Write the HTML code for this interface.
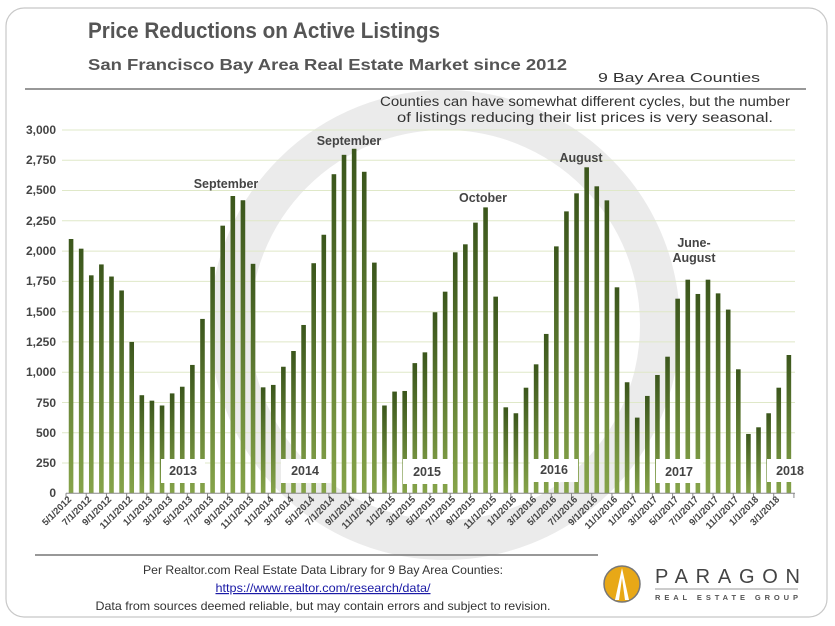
<!DOCTYPE html>
<html><head><meta charset="utf-8"><style>
html,body{margin:0;padding:0;background:#fff;}
svg{display:block;font-family:"Liberation Sans",Arial,sans-serif;}
</style></head><body>
<svg id="s" width="835" height="626" viewBox="0 0 835 626" xmlns="http://www.w3.org/2000/svg">
<defs>
<linearGradient id="g" x1="0" y1="0" x2="0" y2="1"><stop offset="0" stop-color="#3b561c"/><stop offset="1" stop-color="#86a44a"/></linearGradient>
</defs>
<rect x="6" y="8" width="821" height="609" rx="18" fill="#fff" stroke="#c8c8c8" stroke-width="1.2"/>
<circle cx="445" cy="325" r="215" fill="none" stroke="#ebebeb" stroke-width="40"/>
<text x="88" y="38" font-size="22" font-weight="bold" fill="#555" textLength="352" lengthAdjust="spacingAndGlyphs">Price Reductions on Active Listings</text>
<text x="88" y="70" font-size="16" font-weight="bold" fill="#555" textLength="479" lengthAdjust="spacingAndGlyphs">San Francisco Bay Area Real Estate Market since 2012</text>
<text x="598" y="82" font-size="13" fill="#333" textLength="162" lengthAdjust="spacingAndGlyphs">9 Bay Area Counties</text>
<line x1="25" y1="89" x2="806" y2="89" stroke="#777" stroke-width="1.5"/>
<text x="380" y="106" font-size="13.5" fill="#333" textLength="410" lengthAdjust="spacingAndGlyphs">Counties can have somewhat different cycles, but the number</text>
<text x="397" y="122" font-size="13.5" fill="#333" textLength="376" lengthAdjust="spacingAndGlyphs">of listings reducing their list prices is very seasonal.</text>
<g stroke="#dfe8c8" stroke-width="1">
<line x1="62" y1="130" x2="795" y2="130"/><line x1="62" y1="160.3" x2="795" y2="160.3"/><line x1="62" y1="190.5" x2="795" y2="190.5"/><line x1="62" y1="220.8" x2="795" y2="220.8"/><line x1="62" y1="251.1" x2="795" y2="251.1"/><line x1="62" y1="281.4" x2="795" y2="281.4"/><line x1="62" y1="311.7" x2="795" y2="311.7"/><line x1="62" y1="341.9" x2="795" y2="341.9"/><line x1="62" y1="372.2" x2="795" y2="372.2"/><line x1="62" y1="402.5" x2="795" y2="402.5"/><line x1="62" y1="432.8" x2="795" y2="432.8"/><line x1="62" y1="463" x2="795" y2="463"/>
</g>
<g font-size="12" font-weight="bold" fill="#444" text-anchor="end">
<text x="56" y="134">3,000</text><text x="56" y="164">2,750</text><text x="56" y="194">2,500</text><text x="56" y="225">2,250</text><text x="56" y="255">2,000</text><text x="56" y="285">1,750</text><text x="56" y="316">1,500</text><text x="56" y="346">1,250</text><text x="56" y="376">1,000</text><text x="56" y="407">750</text><text x="56" y="437">500</text><text x="56" y="467">250</text><text x="56" y="497">0</text>
</g>
<g id="bars" fill="url(#g)"></g>
<g fill="#fff">
<rect x="161" y="459" width="44" height="24"/><rect x="281" y="459" width="49" height="24"/><rect x="403" y="459" width="49" height="25"/><rect x="530" y="459" width="48" height="23"/><rect x="656" y="459" width="47" height="24"/><rect x="767" y="459" width="36" height="23"/>
</g>
<g font-size="12.5" font-weight="bold" fill="#444" text-anchor="middle">
<text x="183" y="475">2013</text><text x="305" y="475">2014</text><text x="427" y="476">2015</text><text x="554" y="474">2016</text><text x="679" y="476">2017</text><text x="790" y="475">2018</text>
<text x="226" y="188">September</text><text x="349" y="145">September</text><text x="483" y="202">October</text><text x="581" y="162">August</text><text x="694" y="247">June-</text><text x="694" y="262">August</text>
</g>
<line x1="66" y1="493.3" x2="795" y2="493.3" stroke="#888"/>
<g id="ticks" stroke="#888"></g>
<g font-size="9.5" font-weight="bold" fill="#444" text-anchor="end">
<text transform="translate(72,500) rotate(-45)">5/1/2012</text>
<text transform="translate(92,500) rotate(-45)">7/1/2012</text>
<text transform="translate(112,500) rotate(-45)">9/1/2012</text>
<text transform="translate(133,500) rotate(-45)">11/1/2012</text>
<text transform="translate(153,500) rotate(-45)">1/1/2013</text>
<text transform="translate(173,500) rotate(-45)">3/1/2013</text>
<text transform="translate(193,500) rotate(-45)">5/1/2013</text>
<text transform="translate(214,500) rotate(-45)">7/1/2013</text>
<text transform="translate(234,500) rotate(-45)">9/1/2013</text>
<text transform="translate(254,500) rotate(-45)">11/1/2013</text>
<text transform="translate(274,500) rotate(-45)">1/1/2014</text>
<text transform="translate(294,500) rotate(-45)">3/1/2014</text>
<text transform="translate(315,500) rotate(-45)">5/1/2014</text>
<text transform="translate(335,500) rotate(-45)">7/1/2014</text>
<text transform="translate(355,500) rotate(-45)">9/1/2014</text>
<text transform="translate(375,500) rotate(-45)">11/1/2014</text>
<text transform="translate(396,500) rotate(-45)">1/1/2015</text>
<text transform="translate(416,500) rotate(-45)">3/1/2015</text>
<text transform="translate(436,500) rotate(-45)">5/1/2015</text>
<text transform="translate(456,500) rotate(-45)">7/1/2015</text>
<text transform="translate(476,500) rotate(-45)">9/1/2015</text>
<text transform="translate(497,500) rotate(-45)">11/1/2015</text>
<text transform="translate(517,500) rotate(-45)">1/1/2016</text>
<text transform="translate(537,500) rotate(-45)">3/1/2016</text>
<text transform="translate(557,500) rotate(-45)">5/1/2016</text>
<text transform="translate(578,500) rotate(-45)">7/1/2016</text>
<text transform="translate(598,500) rotate(-45)">9/1/2016</text>
<text transform="translate(618,500) rotate(-45)">11/1/2016</text>
<text transform="translate(638,500) rotate(-45)">1/1/2017</text>
<text transform="translate(658,500) rotate(-45)">3/1/2017</text>
<text transform="translate(679,500) rotate(-45)">5/1/2017</text>
<text transform="translate(699,500) rotate(-45)">7/1/2017</text>
<text transform="translate(719,500) rotate(-45)">9/1/2017</text>
<text transform="translate(739,500) rotate(-45)">11/1/2017</text>
<text transform="translate(759,500) rotate(-45)">1/1/2018</text>
<text transform="translate(780,500) rotate(-45)">3/1/2018</text>
</g>
<line x1="35" y1="555" x2="598" y2="555" stroke="#777" stroke-width="1.5"/>
<g font-size="12" text-anchor="middle" fill="#333">
<text x="323" y="574" textLength="360" lengthAdjust="spacingAndGlyphs">Per Realtor.com Real Estate  Data Library for 9 Bay Area Counties:</text>
<text x="323" y="592" fill="#1a1aa6" text-decoration="underline" textLength="215" lengthAdjust="spacingAndGlyphs">https://www.realtor.com/research/data/</text>
<text x="323" y="610" textLength="455" lengthAdjust="spacingAndGlyphs">Data from sources  deemed reliable, but may contain errors and subject to revision.</text>
</g>
<circle cx="622" cy="584" r="18" fill="#e8a817" stroke="#777" stroke-width="1.5"/>
<path d="M622 568 L615 600 L619 600 L622 578 L625 600 L629 600 Z" fill="#fff"/>
<text x="655" y="583" font-size="20" fill="#444" textLength="145" lengthAdjust="spacing">PARAGON</text>
<line x1="655" y1="589" x2="798" y2="589" stroke="#999"/>
<text x="655" y="600" font-size="7.5" font-weight="bold" fill="#555" textLength="143" lengthAdjust="spacing">REAL ESTATE GROUP</text>
</svg>
<script>
var v=[2100,2020,1800,1890,1790,1675,1250,810,
765,725,825,880,1060,1440,1870,2210,2455,2420,1895,875,
895,1045,1175,1390,1900,2135,2635,2795,2845,2655,1905,725,
840,845,1075,1164,1495,1665,1990,2056,2235,2361,1624,710,
661,872,1065,1316,2039,2328,2477,2692,2535,2419,1701,917,
625,804,977,1128,1607,1764,1646,1764,1651,1517,1024,490,
545,661,872,1142];
var ns="http://www.w3.org/2000/svg",b=document.getElementById("bars"),t=document.getElementById("ticks");
for(var i=0;i<v.length;i++){var cx=66+(i+0.5)*10.11,h=v[i]*363.3/3000;var r=document.createElementNS(ns,"rect");r.setAttribute("x",cx-2.3);r.setAttribute("y",493.3-h);r.setAttribute("width",4.6);r.setAttribute("height",h);b.appendChild(r);}
for(var k=0;k<=36;k++){var x=66+k*20.22;var l=document.createElementNS(ns,"line");l.setAttribute("x1",x);l.setAttribute("x2",x);l.setAttribute("y1",493.3);l.setAttribute("y2",498);t.appendChild(l);}
</script>
</body></html>
